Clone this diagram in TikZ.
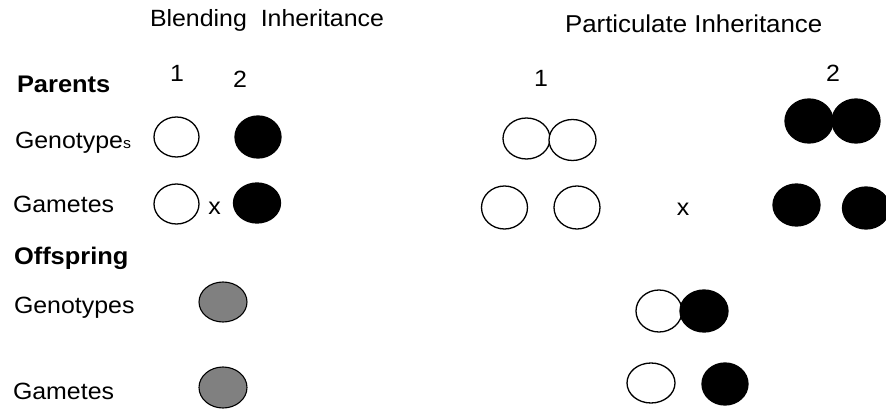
\documentclass[tikz,border=0pt]{standalone}
\usepackage{fontspec}
\setmainfont[FakeStretch=1.06]{Liberation Sans}
\usetikzlibrary{shapes.geometric}
\tikzset{
  lbl/.style={inner sep=0pt, outer sep=0pt, font=\fontsize{23.5}{26}\selectfont, text=black},
  blbl/.style={lbl, font=\fontsize{24}{26}\selectfont\bfseries},
  allele/.style={ellipse, draw=black, line width=1.3pt, inner sep=0pt, outer sep=0pt},
  openal/.style={allele, fill=white},
  fullal/.style={allele, fill=black},
  grayal/.style={allele, fill=black!50, line width=1.1pt},
}
\begin{document}
\begin{tikzpicture}[x=1pt,y=-1pt]
\useasboundingbox (0,0) rectangle (886,409);
% titles
\node[lbl, anchor=base west] (tblend) at (150,27) {Blending\ \ Inheritance};
\node[lbl, anchor=base west, font=\fontsize{24.4}{26}\selectfont] (tpart) at (565,33) {Particulate Inheritance};
% row labels
\node[blbl, anchor=base west] (parents) at (17,93) {Parents};
\node[lbl, anchor=base west] (pgen) at (15,149) {Genotype{\fontsize{15}{15}\selectfont s}};
\node[lbl, anchor=base west] (pgam) at (13,212) {Gametes};
\node[blbl, anchor=base west] (offs) at (14,264) {Offspring};
\node[lbl, anchor=base west] (ogen) at (14,313) {Genotypes};
\node[lbl, anchor=base west] (ogam) at (13,399) {Gametes};
% numbers
\node[lbl, anchor=base] (b1) at (177,82) {1};
\node[lbl, anchor=base] (b2) at (240,88) {2};
\node[lbl, anchor=base] (p1) at (541,87) {1};
\node[lbl, anchor=base] (p2) at (833,82) {2};
% crosses
\node[lbl, anchor=base] (bx) at (214.5,214) {x};
\node[lbl, anchor=base] (px) at (683,215) {x};
% blending alleles
\node[openal, minimum width=45pt, minimum height=40pt] (bg1) at (176.5,137) {};
\node[fullal, minimum width=46pt, minimum height=42pt] (bg2) at (258,137) {};
\node[openal, minimum width=45pt, minimum height=40pt] (bm1) at (176.5,204) {};
\node[fullal, minimum width=47pt, minimum height=40pt] (bm2) at (257,203) {};
\node[grayal, minimum width=48pt, minimum height=40pt] (bog) at (223,302) {};
\node[grayal, minimum width=48pt, minimum height=41pt] (bom) at (223,387.5) {};
% particulate parents
\node[openal, minimum width=47pt, minimum height=41pt] (pg1a) at (526.5,138.5) {};
\node[openal, minimum width=47pt, minimum height=41pt] (pg1b) at (572.5,140) {};
\node[fullal, minimum width=48pt, minimum height=44pt] (pg2a) at (809,121) {};
\node[fullal, minimum width=48pt, minimum height=44pt] (pg2b) at (856,121) {};
\node[openal, minimum width=46pt, minimum height=43pt] (pm1a) at (504.5,207.5) {};
\node[openal, minimum width=46pt, minimum height=43pt] (pm1b) at (577,207.5) {};
\node[fullal, minimum width=47pt, minimum height=42pt] (pm2a) at (796.5,205) {};
\node[fullal, minimum width=47pt, minimum height=42pt] (pm2b) at (866,208) {};
% particulate offspring
\node[openal, minimum width=46pt, minimum height=42pt] (pog1) at (659,311) {};
\node[fullal, minimum width=48pt, minimum height=42pt] (pog2) at (704,311) {};
\node[openal, minimum width=48pt, minimum height=40pt] (pom1) at (651,383) {};
\node[fullal, minimum width=46pt, minimum height=42pt] (pom2) at (725,384) {};
\end{tikzpicture}
\end{document}
